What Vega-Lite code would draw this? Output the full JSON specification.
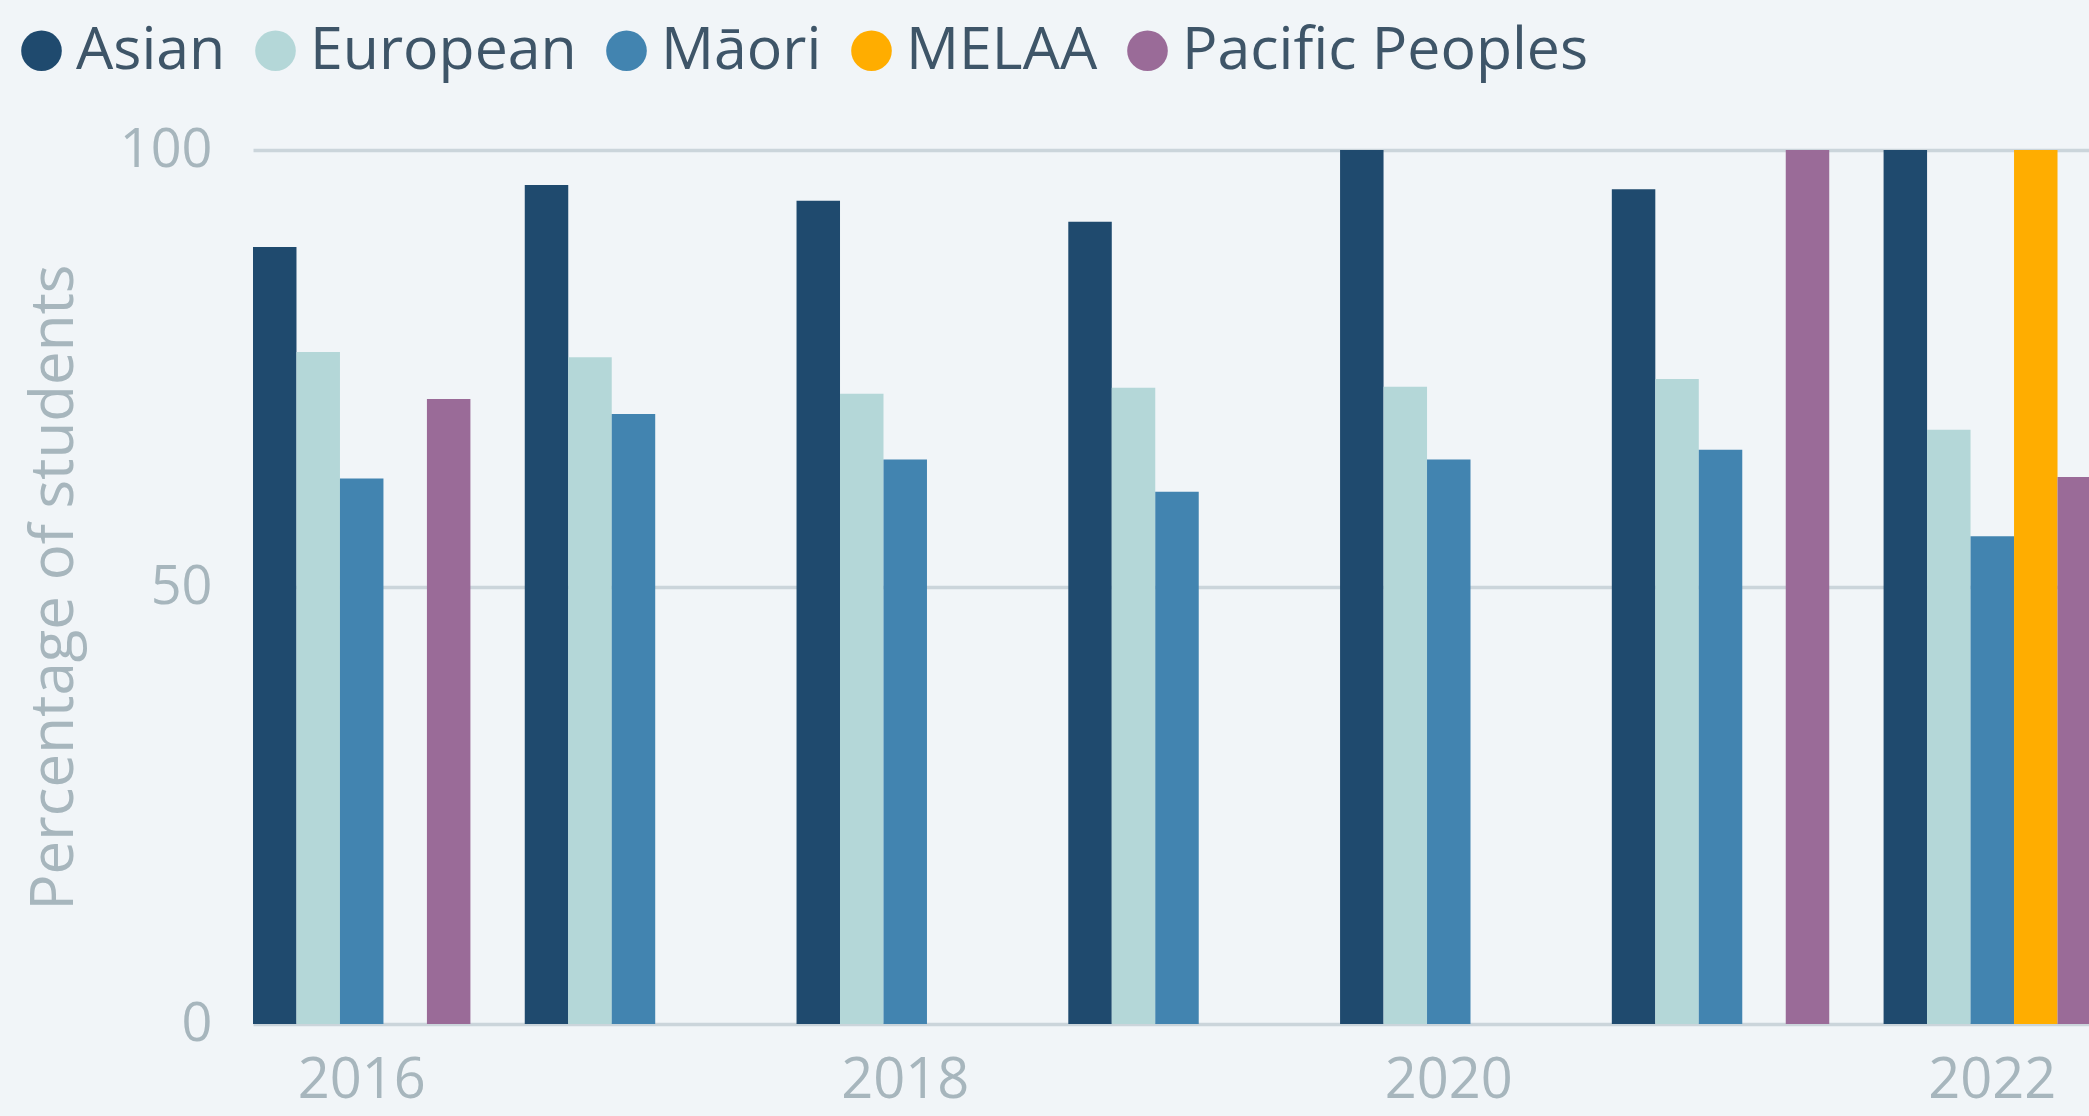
{
  "$schema": "https://vega.github.io/schema/vega-lite/v6.json",
  "width": 1837,
  "height": 874,
  "autosize": {"type": "none"},
  "padding": {"left": 252, "top": 150, "right": 0, "bottom": 92},
  "background": "#f1f5f8",
  "config": {"view": {"stroke": null}, "font": "Open Sans"},
  "data": {
    "values": [
      {"year": "2016", "group": "Asian", "value": 88.9},
      {"year": "2016", "group": "European", "value": 76.9},
      {"year": "2016", "group": "Māori", "value": 62.4},
      {"year": "2016", "group": "Pacific Peoples", "value": 71.5},
      {"year": "2017", "group": "Asian", "value": 96.0},
      {"year": "2017", "group": "European", "value": 76.3},
      {"year": "2017", "group": "Māori", "value": 69.8},
      {"year": "2018", "group": "Asian", "value": 94.2},
      {"year": "2018", "group": "European", "value": 72.1},
      {"year": "2018", "group": "Māori", "value": 64.6},
      {"year": "2019", "group": "Asian", "value": 91.8},
      {"year": "2019", "group": "European", "value": 72.8},
      {"year": "2019", "group": "Māori", "value": 60.9},
      {"year": "2020", "group": "Asian", "value": 100},
      {"year": "2020", "group": "European", "value": 72.9},
      {"year": "2020", "group": "Māori", "value": 64.6},
      {"year": "2021", "group": "Asian", "value": 95.5},
      {"year": "2021", "group": "European", "value": 73.8},
      {"year": "2021", "group": "Māori", "value": 65.7},
      {"year": "2021", "group": "Pacific Peoples", "value": 100},
      {"year": "2022", "group": "Asian", "value": 100},
      {"year": "2022", "group": "European", "value": 68.0},
      {"year": "2022", "group": "Māori", "value": 55.8},
      {"year": "2022", "group": "MELAA", "value": 100},
      {"year": "2022", "group": "Pacific Peoples", "value": 62.6}
    ]
  },
  "mark": {"type": "bar", "clip": true},
  "encoding": {
    "x": {
      "field": "year",
      "type": "ordinal",
      "scale": {"range": [1, 1849], "paddingInner": 0.2, "paddingOuter": 0},
      "axis": {
        "values": ["2016", "2018", "2020", "2022"],
        "labelAngle": 0,
        "ticks": false,
        "tickSize": 0,
        "domain": false,
        "labelFontSize": 56,
        "labelColor": "#a7b6bd",
        "labelPadding": 29,
        "title": null
      }
    },
    "xOffset": {
      "field": "group",
      "type": "nominal",
      "scale": {
        "domain": ["Asian", "European", "Māori", "MELAA", "Pacific Peoples"],
        "paddingInner": 0,
        "paddingOuter": 0
      }
    },
    "y": {
      "field": "value",
      "type": "quantitative",
      "scale": {"domain": [0, 100]},
      "axis": {
        "values": [0, 50, 100],
        "title": "Percentage of students",
        "titleFontSize": 60,
        "titleFontWeight": "normal",
        "titleColor": "#a7b6bd",
        "titlePadding": 34,
        "labelFontSize": 54,
        "labelColor": "#a7b6bd",
        "labelPadding": 40,
        "labelFlush": false,
        "ticks": false,
        "tickSize": 0,
        "domain": false,
        "gridColor": "#cbd5db",
        "gridWidth": 3.5
      }
    },
    "color": {
      "field": "group",
      "type": "nominal",
      "scale": {
        "domain": ["Asian", "European", "Māori", "MELAA", "Pacific Peoples"],
        "range": ["#1f4a6e", "#b4d7d8", "#4284b0", "#ffad00", "#9a6b98"]
      },
      "legend": {
        "title": null,
        "orient": "none",
        "legendX": -240,
        "legendY": -129,
        "direction": "horizontal",
        "columns": 5,
        "symbolType": "circle",
        "symbolSize": 1650,
        "symbolStrokeWidth": 0,
        "labelFontSize": 59,
        "labelColor": "#3e5568",
        "labelLimit": 1000,
        "labelOffset": 5,
        "columnPadding": 20,
        "padding": 0
      }
    }
  }
}
